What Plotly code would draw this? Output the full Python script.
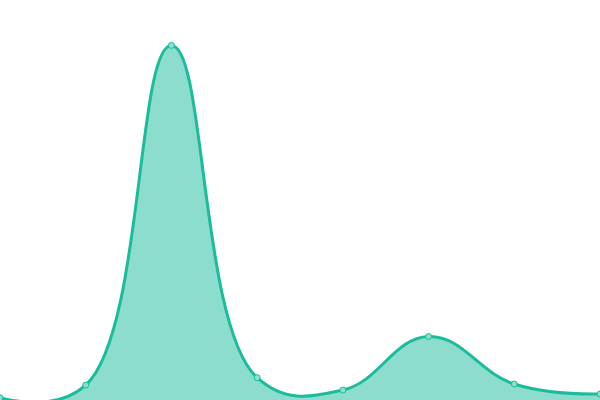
"""Spline area chart with a single tall peak and a smaller bump."""

import plotly.graph_objects as go  # type: ignore[import-untyped]

x_vals = [0, 1, 2, 3, 4, 5, 6, 7]
y_vals = [0.6, 4.2, 100, 6.3, 2.8, 17.9, 4.5, 1.7]

LINE = "#1abc9c"
FILL = "rgba(26,188,156,0.5)"

fig = go.Figure()
fig.add_trace(go.Scatter(
    x=x_vals,
    y=y_vals,
    mode="lines+markers",
    line=dict(color=LINE, width=3, shape="spline", smoothing=1.2),
    marker=dict(size=6, color="#8ddece", line=dict(color=LINE, width=1)),
    fill="tozeroy",
    fillcolor=FILL,
    hoverinfo="skip",
))

fig.update_layout(
    width=600,
    height=400,
    margin=dict(l=0, r=0, t=0, b=0),
    plot_bgcolor="white",
    paper_bgcolor="white",
    showlegend=False,
    xaxis=dict(range=[0, 7], visible=False, fixedrange=True),
    yaxis=dict(range=[0, 112.8], visible=False, fixedrange=True),
)

# drop the page's default body margin so the chart sits flush in the window
fig.write_html(
    "out.html",
    config={"displayModeBar": False},
    post_script="document.body.style.margin='0';",
)
